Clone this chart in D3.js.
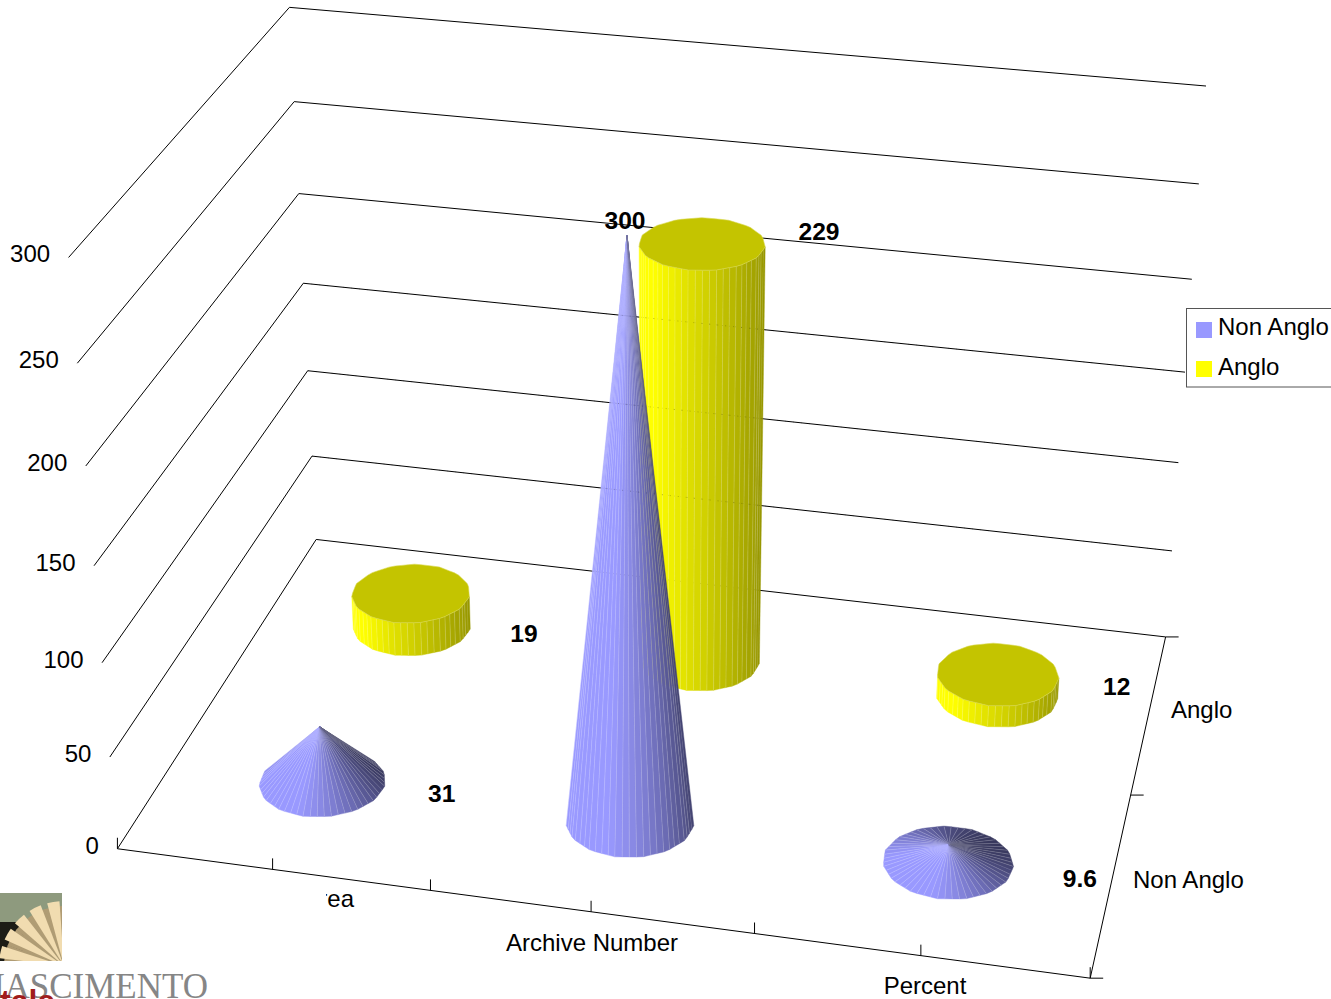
<!DOCTYPE html>
<html lang="en">
<head>
<meta charset="UTF-8">
<title>Non Anglo / Anglo</title>
<script src="https://d3js.org/d3.v7.min.js"></script>
<style>
  html, body { margin: 0; padding: 0; background: #fff; overflow: hidden; }
  svg { display: block; }
  text { font-family: "Liberation Sans", Arial, sans-serif; font-size: 24px; fill: #000; }
  .value { font-weight: bold; font-size: 24.6px; }
</style>
</head>
<body>
<div id="chart"></div>
<script>
const categories = ["Area", "Archive Number", "Percent"];
const series = ["Non Anglo", "Anglo"];
const nonAnglo = [31, 300, 9.6];
const anglo = [19, 229, 12];
const valueTicks = [0, 50, 100, 150, 200, 250, 300];

const width = 1331, height = 999;
const svg = d3.select("#chart").append("svg").attr("width", width).attr("height", height);

const xBand = d3.scaleBand().domain(categories).range([0, 3]);
const zBand = d3.scaleBand().domain(series).range([0, 2]);
const vScale = d3.scaleLinear().domain([0, 300]).range([0, 1]);

// camera fitted to the box corners and the wall gridlines: [x, z, value, px, py]
const calib = [
  [0, 0, 0, 118, 849], [3, 0, 0, 1090, 978], [3, 2, 0, 1166, 637], [0, 2, 0, 316, 539],
  [0, 0, 100, 102, 663], [0, 0, 200, 86, 466], [0, 0, 300, 68, 257],
  [0, 2, 100, 307, 371], [0, 2, 200, 299, 193], [0, 2, 300, 290, 8],
  [3, 2, 100, 1178, 463], [3, 2, 200, 1192, 279], [3, 2, 300, 1206, 86]
];

function solve(A, b) {
  const n = b.length, M = A.map((r, i) => [...r, b[i]]);
  for (let i = 0; i < n; i++) {
    let p = i;
    for (let r = i + 1; r < n; r++) if (Math.abs(M[r][i]) > Math.abs(M[p][i])) p = r;
    [M[i], M[p]] = [M[p], M[i]];
    for (let r = 0; r < n; r++) {
      if (r === i) continue;
      const f = M[r][i] / M[i][i];
      for (let c = i; c <= n; c++) M[r][c] -= f * M[i][c];
    }
  }
  return M.map((r, i) => r[n] / r[i]);
}

function fitCamera(points) {
  const rows = [], rhs = [];
  points.forEach(([x, z, v, u, w]) => {
    const t = vScale(v);
    rows.push([x, z, t, 1, 0, 0, 0, 0, -u * x, -u * z, -u * t]); rhs.push(u);
    rows.push([0, 0, 0, 0, x, z, t, 1, -w * x, -w * z, -w * t]); rhs.push(w);
  });
  const AtA = d3.range(11).map(i => d3.range(11).map(j => d3.sum(rows, r => r[i] * r[j])));
  const Atb = d3.range(11).map(i => d3.sum(rows, (r, k) => r[i] * rhs[k]));
  return solve(AtA, Atb);
}

const cam = fitCamera(calib);
function project(x, z, v) {
  const t = vScale(v);
  const d = cam[8] * x + cam[9] * z + cam[10] * t + 1;
  return [(cam[0] * x + cam[1] * z + cam[2] * t + cam[3]) / d,
          (cam[4] * x + cam[5] * z + cam[6] * t + cam[7]) / d];
}

const line = d3.line();
function drawPath(pts, g) {
  return g.append("path").attr("d", line(pts)).attr("fill", "none").attr("stroke", "#000").attr("stroke-width", 1);
}

// walls and floor
const box = svg.append("g");
valueTicks.forEach(v => {
  drawPath([project(0, 0, v), project(0, 2, v), project(3, 2, v)], box);
  const p = project(0, 0, v);
  box.append("text").attr("x", p[0] - 18.5).attr("y", p[1] + 5).attr("text-anchor", "end").text(v);
});
drawPath([project(0, 0, 0), project(3, 0, 0), project(3, 2, 0)], box);

// axis ticks
d3.range(0, 3.01, 0.5).forEach(x => {
  const p = project(x, 0, 0);
  drawPath([p, [p[0], p[1] - 11]], box);
});
d3.range(0, 2.01, 1).forEach(z => {
  const p = project(3, z, 0);
  drawPath([p, [p[0] + 13, p[1]]], box);
});

// category and series labels
const catAnchor = [[354, 907, "end"], [592, 951, "middle"], [925, 994, "middle"]];
categories.forEach((c, i) => {
  box.append("text").attr("x", catAnchor[i][0]).attr("y", catAnchor[i][1])
    .attr("text-anchor", catAnchor[i][2]).text(c);
});
const seriesAnchor = [[1133, 888], [1171, 718]];
series.forEach((s, i) => {
  box.append("text").attr("x", seriesAnchor[i][0]).attr("y", seriesAnchor[i][1]).text(s);
});

// facets
const segs = 56, sides = 15;
const base = { "Non Anglo": [153, 153, 255], "Anglo": [255, 255, 0] };
function shade(rgb, t, light, a, b) {
  const d = Math.cos(t) * light[0] + Math.sin(t) * light[1];
  const k = Math.min(1, a + b * d);
  return d3.rgb(rgb[0] * k, rgb[1] * k, rgb[2] * k).formatHex();
}

// the outline is a coarse polygon, with a flat edge at the back and front
function radial(t) {
  const step = 2 * Math.PI / sides;
  const u = ((t - Math.PI / 2 + step / 2) % step + step) % step - step / 2;
  return Math.cos(step / 2) / Math.cos(u);
}

function drawMark(g, name, cat, value) {
  const cx = xBand(cat) + xBand.bandwidth() / 2;
  const cz = zBand(name) + zBand.bandwidth() / 2;
  const rx = 0.2, rz = 0.2;
  const ring = (t, v) => project(cx + rx * radial(t) * Math.cos(t), cz + rz * radial(t) * Math.sin(t), v);
  const isCone = name === "Non Anglo";
  const apex = project(cx, cz, value);
  d3.range(segs).forEach(i => {
    const t0 = i / segs * 2 * Math.PI, t1 = (i + 1) / segs * 2 * Math.PI, tm = (t0 + t1) / 2;
    const pts = isCone
      ? [ring(t0, 0), ring(t1, 0), apex]
      : [ring(t0, 0), ring(t1, 0), ring(t1, value), ring(t0, value)];
    if (d3.polygonArea(pts) < 0) return;
    const fill = isCone ? shade(base[name], tm, [-0.7, -0.7], 0.72, 0.36)
                        : shade(base[name], tm, [-0.95, -0.3], 0.813, 0.224);
    g.append("polygon").attr("points", pts.join(" ")).attr("fill", fill)
      .attr("stroke", fill).attr("stroke-width", 0.4);
    // light seam between facets
    g.append("line").attr("x1", pts[0][0]).attr("y1", pts[0][1])
      .attr("x2", isCone ? apex[0] : pts[3][0]).attr("y2", isCone ? apex[1] : pts[3][1])
      .attr("stroke", "#fff").attr("stroke-opacity", 0.3).attr("stroke-width", 0.6);
  });
  if (!isCone) {
    const top = d3.range(segs).map(i => ring(i / segs * 2 * Math.PI, value));
    g.append("polygon").attr("points", top.join(" ")).attr("fill", "#c4c400")
      .attr("stroke", "#d8d850").attr("stroke-width", 0.6);
  }
}

const marks = svg.append("g");
[["Anglo", anglo], ["Non Anglo", nonAnglo]].forEach(([name, vals]) => {
  categories.forEach((c, i) => drawMark(marks, name, c, vals[i]));
});

// the gridlines show faintly through the tall marks
[50, 100, 150].forEach(v => {
  drawPath([project(0, 2, v), project(3, 2, v)], marks)
    .attr("stroke-dasharray", "1 7").attr("stroke-opacity", 0.22);
});

// value labels, offset from the top centre of each mark
const labelOffset = {
  "Non Anglo": [[122, 67], [-2, -15], [131, 34]],
  "Anglo": [[113, 41], [117, -12], [119, 13]]
};
const labels = svg.append("g");
[["Non Anglo", nonAnglo], ["Anglo", anglo]].forEach(([name, vals]) => {
  categories.forEach((c, i) => {
    const p = project(xBand(c) + xBand.bandwidth() / 2, zBand(name) + zBand.bandwidth() / 2, vals[i]);
    const o = labelOffset[name][i];
    labels.append("text").attr("class", "value").attr("x", p[0] + o[0]).attr("y", p[1] + o[1] + 8)
      .attr("text-anchor", "middle").text(vals[i]);
  });
});

// legend, runs off the right edge
const legend = svg.append("g");
legend.append("rect").attr("x", 1186.5).attr("y", 308.5).attr("width", 160).attr("height", 78.5)
  .attr("fill", "#fff").attr("stroke", "#555");
series.forEach((s, i) => {
  legend.append("rect").attr("x", 1196).attr("y", 322 + i * 39).attr("width", 16).attr("height", 16)
    .attr("fill", d3.rgb(...base[s]).formatHex());
  legend.append("text").attr("x", 1218).attr("y", 335 + i * 40).text(s);
});

// logo pasted over the corner of the chart
const logo = svg.append("g");
logo.append("rect").attr("x", 0).attr("y", 886).attr("width", 326).attr("height", 113).attr("fill", "#fff");
const defs = svg.append("defs");
defs.append("clipPath").attr("id", "shell-clip").append("rect")
  .attr("x", 0).attr("y", 893).attr("width", 62).attr("height", 68);
const shell = logo.append("g").attr("clip-path", "url(#shell-clip)");
shell.append("rect").attr("x", 0).attr("y", 893).attr("width", 62).attr("height", 68).attr("fill", "#8e9a7e");
shell.append("rect").attr("x", 0).attr("y", 922).attr("width", 24).attr("height", 39).attr("fill", "#1c1c16");
const rib = d3.arc().innerRadius(0).outerRadius(d => d.r);
const ribs = d3.range(6);
const ribAngle = d => d * Math.PI / 180;
const drawRibs = (start, span, r, fill) => shell.selectAll(null).data(ribs).enter().append("path")
  .attr("transform", "translate(64,966)")
  .attr("d", i => rib({ r, startAngle: ribAngle(start + i * 17), endAngle: ribAngle(start + i * 17 + span) }))
  .attr("fill", fill);
drawRibs(-104, 17.5, 60, "#b09c74");
drawRibs(-100, 11, 65, "#f1dcb0");
logo.append("text").attr("x", 208).attr("y", 998).attr("text-anchor", "end")
  .style("font-family", "'Liberation Serif', serif").style("font-size", "35px").style("fill", "#868686")
  .text("RINASCIMENTO");
logo.append("text").attr("x", 0).attr("y", 1012)
  .style("font-family", "'Liberation Sans', sans-serif").style("font-size", "32px").style("font-weight", "bold")
  .style("fill", "#a01c1c").text("tale");
</script>
</body>
</html>
